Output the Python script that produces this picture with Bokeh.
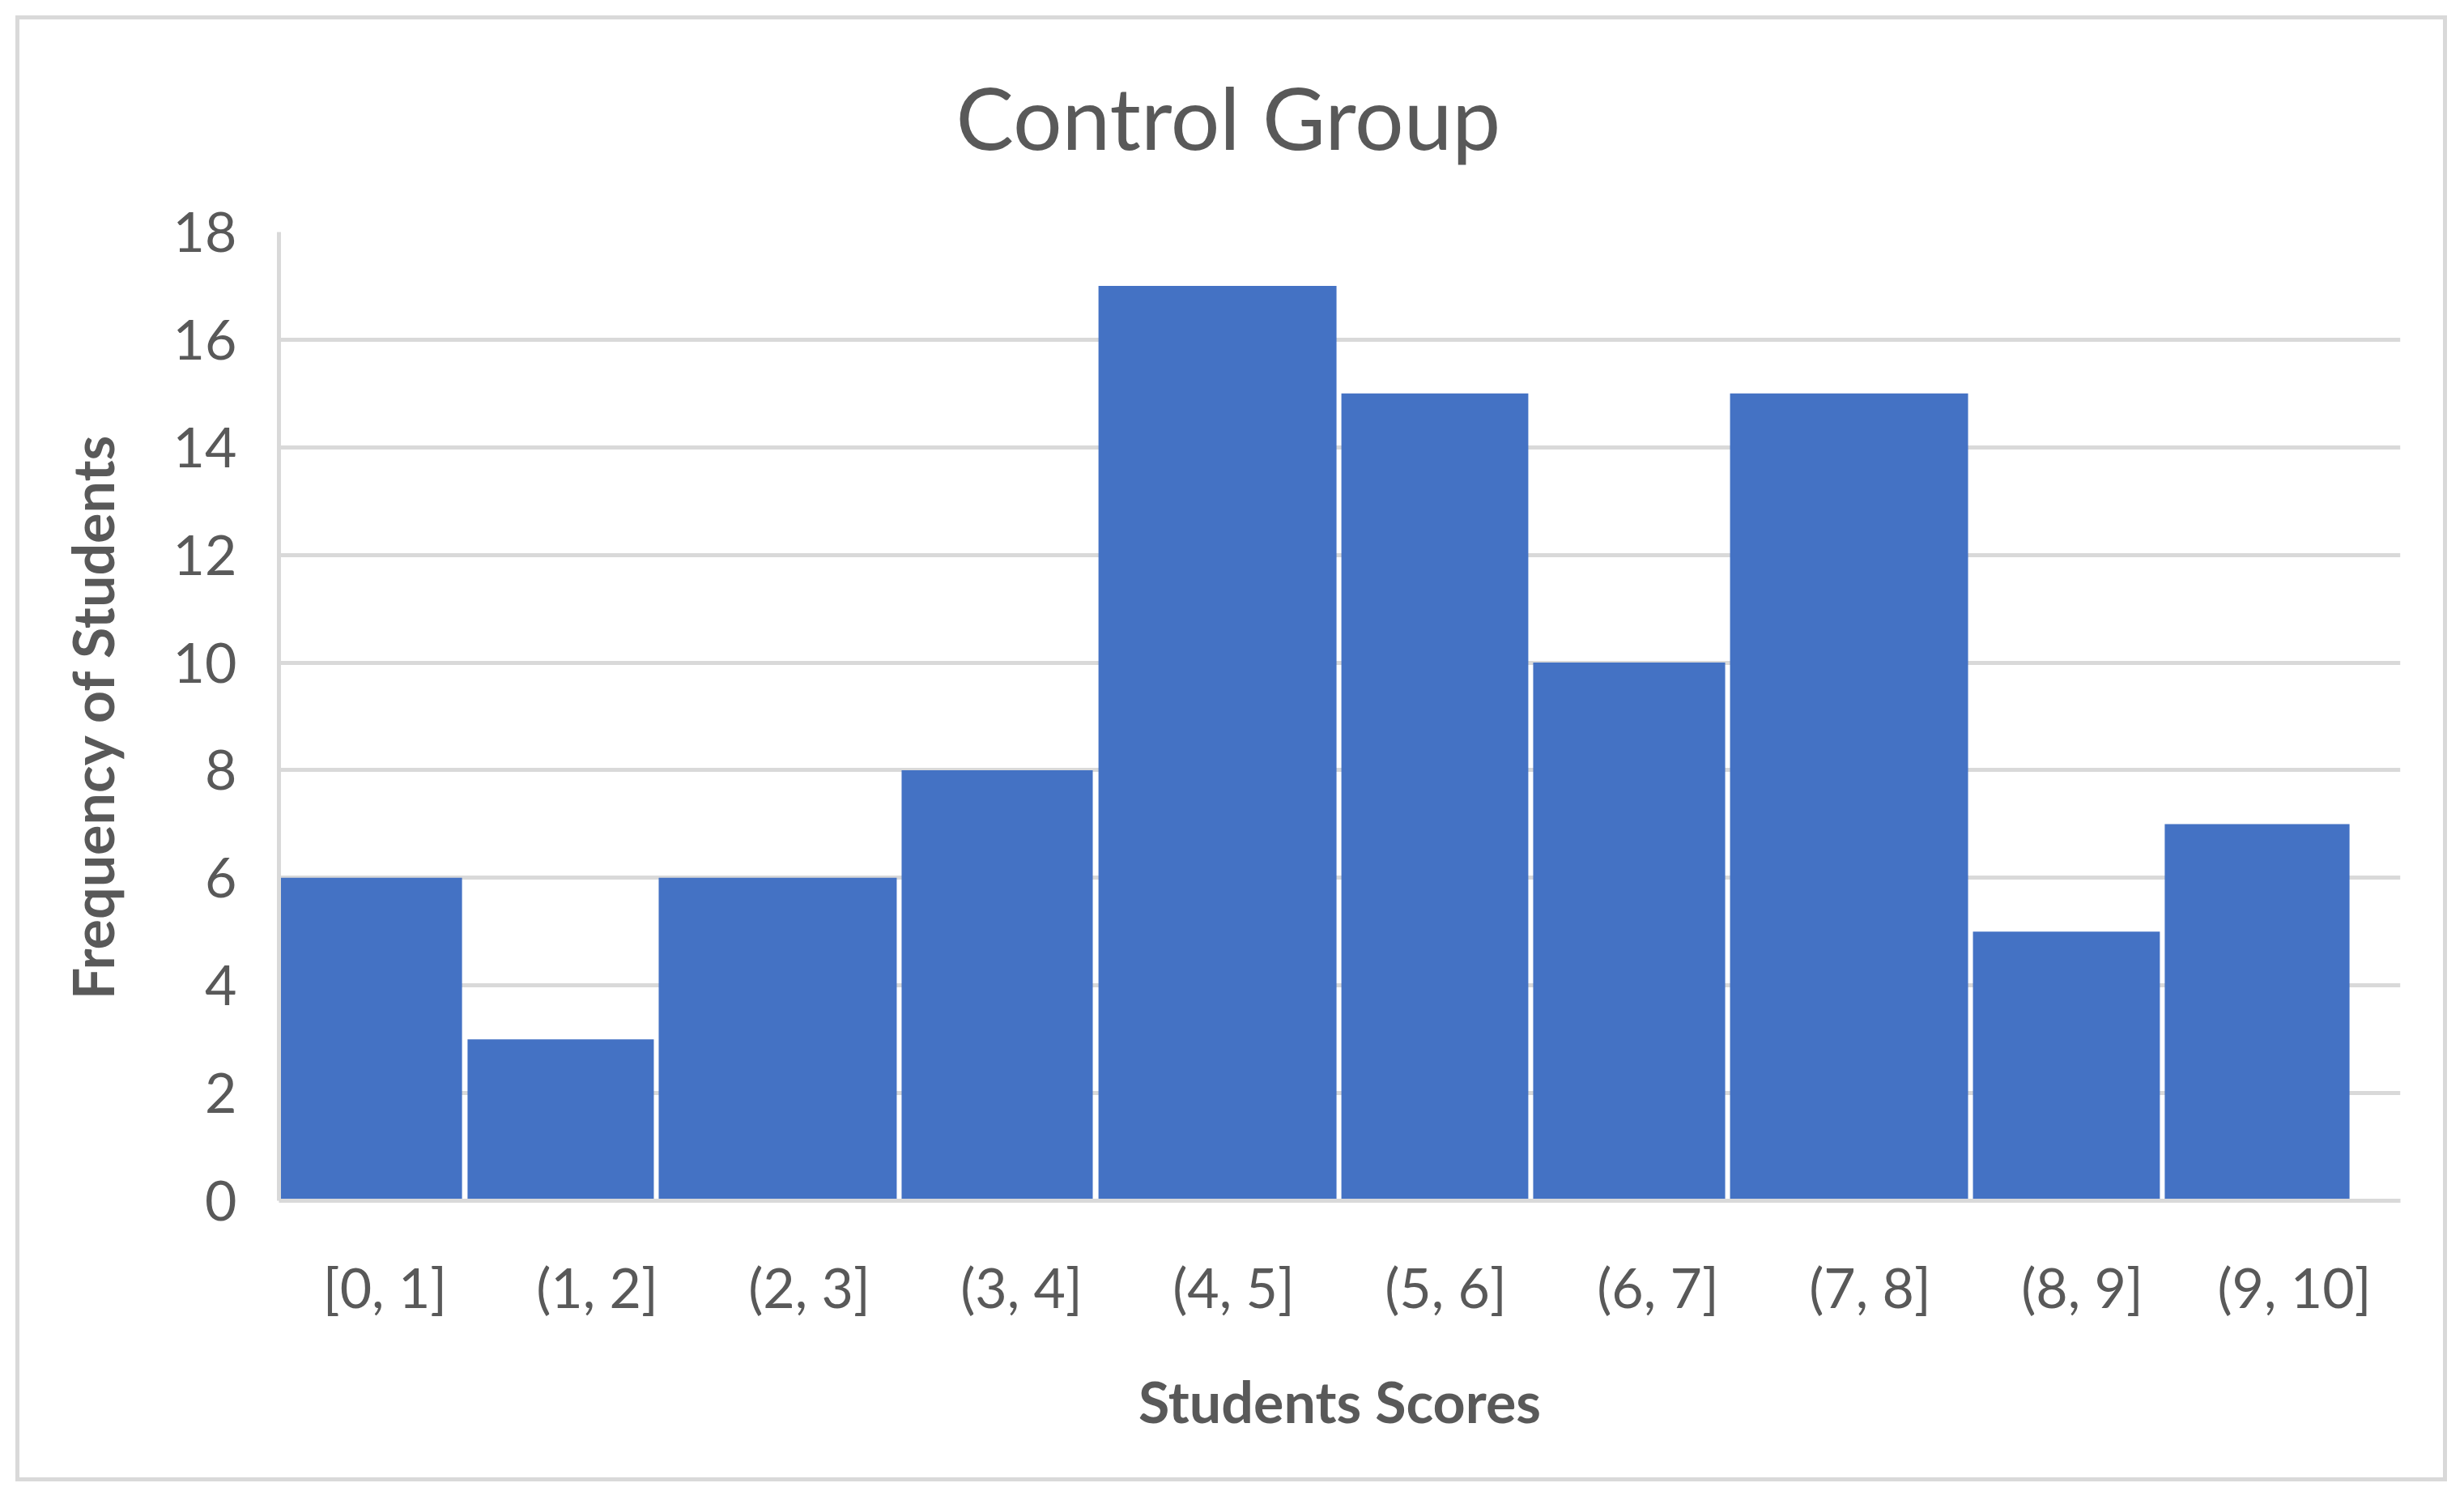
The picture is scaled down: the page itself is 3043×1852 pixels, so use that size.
from bokeh.plotting import figure
from bokeh.models import FixedTicker, Range1d, Title
from bokeh.embed import file_html
from bokeh.resources import INLINE

# ---- data ----
categories = ["[0, 1]", "(1, 2]", "(2, 3]", "(3, 4]", "(4, 5]",
              "(5, 6]", "(6, 7]", "(7, 8]", "(8, 9]", "(9, 10]"]
frequencies = [6, 3, 6, 8, 17, 15, 10, 15, 5, 7]
# bar edges, in category units (category i spans i..i+1)
bar_left = [0.0, 0.889, 1.790, 2.935, 3.863, 5.008, 5.912, 6.840, 7.985, 8.889]
bar_right = [0.863, 1.767, 2.912, 3.836, 4.985, 5.889, 6.817, 7.962, 8.866, 9.760]
y_ticks = [0, 2, 4, 6, 8, 10, 12, 14, 16, 18]
title_text = "Control Group"
x_title = "Students Scores"
y_title = "Frequency of Students"

TEXT = "#595959"
GRID = "#D9D9D9"
BAR = "#4472C4"
FONT = "Lato"

W, H = 3041, 1848
FL, FR, FT, FB = 344, 2964, 285, 1482   # frame edges on the canvas
p = figure(width=W, height=H, output_backend="svg", toolbar_location=None,
           x_range=Range1d(0, len(categories)), y_range=Range1d(0, 18),
           min_border_left=FL, min_border_right=W - FR,
           min_border_top=FT, min_border_bottom=H - FB)
p.background_fill_color = "white"
p.border_fill_color = "white"
p.border_fill_alpha = 0
p.outline_line_color = None
# outer chart border (drawn as an inset outline of the figure element)
p.styles = {"outline": "5px solid #D9D9D9", "outline-offset": "-24px"}

p.quad(left=bar_left, right=bar_right, bottom=0, top=frequencies,
       fill_color=BAR, line_color=None)

# x axis
xa = p.xaxis[0]
xa.ticker = FixedTicker(ticks=[i + 0.5 for i in range(len(categories))])
xa.major_label_overrides = {i + 0.5: c for i, c in enumerate(categories)}
xa.major_tick_line_color = None
xa.minor_tick_line_color = None
xa.axis_line_color = GRID
xa.axis_line_width = 5
xa.major_label_text_font = FONT
xa.major_label_text_font_size = "68px"
xa.major_label_text_color = TEXT
xa.major_label_standoff = 59
xa.axis_label = x_title
xa.axis_label_text_font = FONT
xa.axis_label_text_font_style = "bold"
xa.axis_label_text_font_size = "70px"
xa.axis_label_text_color = TEXT
xa.axis_label_standoff = 56

# y axis
ya = p.yaxis[0]
ya.ticker = FixedTicker(ticks=y_ticks)
ya.major_tick_line_color = None
ya.minor_tick_line_color = None
ya.axis_line_color = GRID
ya.axis_line_width = 5
ya.major_label_text_font = FONT
ya.major_label_text_font_size = "68px"
ya.major_label_text_color = TEXT
ya.major_label_standoff = 46
ya.axis_label = y_title
ya.axis_label_text_font = FONT
ya.axis_label_text_font_style = "bold"
ya.axis_label_text_font_size = "70px"
ya.axis_label_text_color = TEXT
ya.axis_label_standoff = 55

p.xgrid.grid_line_color = None
p.ygrid.ticker = FixedTicker(ticks=y_ticks)
p.ygrid.grid_line_color = GRID
p.ygrid.grid_line_width = 5

# chart title, centred over the whole chart box
p.add_layout(Title(text=title_text, align="left", offset=836, standoff=155,
                   vertical_align="middle",
                   text_font=FONT, text_font_size="107px",
                   text_font_style="normal", text_color=TEXT), "above")

open("out.html", "w").write(file_html(p, INLINE))
